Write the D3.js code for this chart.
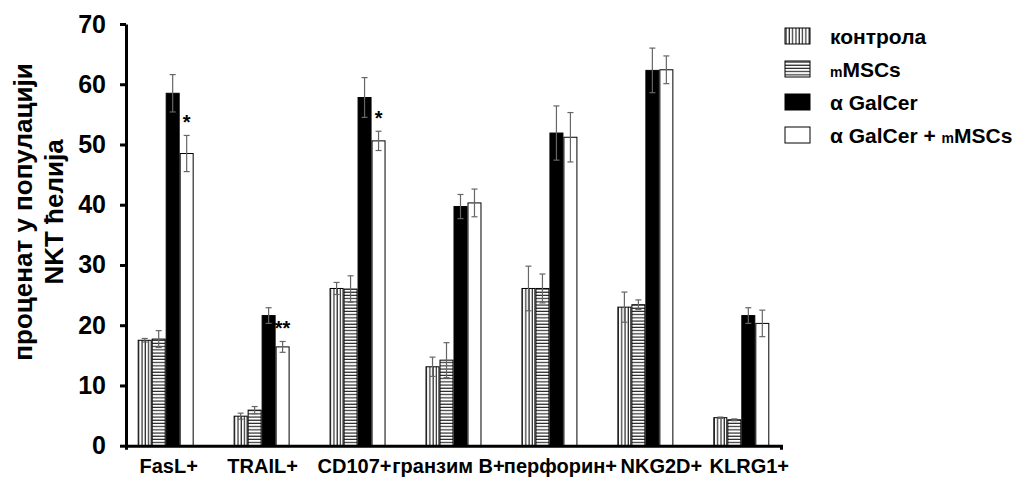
<!DOCTYPE html>
<html>
<head>
<meta charset="utf-8">
<script src="https://cdn.jsdelivr.net/npm/d3@7"></script>
<style>
  body { margin: 0; background: #fff; }
  svg { display: block; font-family: "Liberation Sans", Arial, sans-serif; }
  .axis path, .axis line { stroke: #000; }
  .axis text { fill: #000; font-weight: bold; }
</style>
</head>
<body>
<div id="chart"></div>
<script>
// categories and series
const categories = ['FasL+', 'TRAIL+', 'CD107+', 'гранзим B+', 'перфорин+', 'NKG2D+', 'KLRG1+'];
const series = ['kontrola', 'mMSCs', 'galcer', 'galcerMSC'];

// values (% of NKT cells), one array per series, same order as categories
const kontrola = [17.5, 4.9, 26.1, 13.1, 26.1, 23.0, 4.65];
const mMSCs = [17.7, 5.9, 26.0, 14.2, 26.1, 23.4, 4.3];
const galcer = [58.5, 21.6, 57.8, 39.7, 51.9, 62.3, 21.6];
const galcerMSC = [48.5, 16.4, 50.6, 40.3, 51.2, 62.4, 20.3];

// error bars
const kontrolaErr = [0.3, 0.5, 1.0, 1.6, 3.7, 2.5, 0.1];
const mMSCsErr = [1.4, 0.6, 2.2, 2.9, 2.4, 0.8, 0.15];
const galcerErr = [3.1, 1.3, 3.3, 2.0, 4.5, 3.7, 1.3];
const galcerMSCErr = [3.0, 0.9, 1.6, 2.3, 4.1, 2.3, 2.2];

const yTicks = [0, 10, 20, 30, 40, 50, 60, 70];

// significance marks above the αGalCer+mMSCs bar
const marks = [
  { cat: 'FasL+', text: '*' },
  { cat: 'TRAIL+', text: '**' },
  { cat: 'CD107+', text: '*' },
];

const values = { kontrola, mMSCs, galcer, galcerMSC };
const errors = { kontrola: kontrolaErr, mMSCs: mMSCsErr, galcer: galcerErr, galcerMSC: galcerMSCErr };

const width = 1019;
const height = 477;

// the long category labels are nudged sideways so they don't run into each other
const labelShift = {
  'FasL+': 3, 'TRAIL+': 1, 'CD107+': -3, 'гранзим B+': -5,
  'перфорин+': 11, 'NKG2D+': 16, 'KLRG1+': 8,
};

const svg = d3.select('#chart').append('svg')
  .attr('width', width)
  .attr('height', height);

const defs = svg.append('defs');
const vert = defs.append('pattern')
  .attr('id', 'vstripe')
  .attr('patternUnits', 'userSpaceOnUse')
  .attr('width', 3.3)
  .attr('height', 10);
vert.append('rect').attr('width', 3.3).attr('height', 10).attr('fill', '#fff');
vert.append('line').attr('x1', 1).attr('x2', 1).attr('y1', 0).attr('y2', 10)
  .attr('stroke', '#000').attr('stroke-width', 1);

const horiz = defs.append('pattern')
  .attr('id', 'hstripe')
  .attr('patternUnits', 'userSpaceOnUse')
  .attr('width', 10)
  .attr('height', 3.2);
horiz.append('rect').attr('width', 10).attr('height', 3.2).attr('fill', '#fff');
horiz.append('line').attr('x1', 0).attr('x2', 10).attr('y1', 1).attr('y2', 1)
  .attr('stroke', '#000').attr('stroke-width', 1);

const fills = {
  kontrola: 'url(#vstripe)',
  mMSCs: 'url(#hstripe)',
  galcer: '#000',
  galcerMSC: '#fff',
};

const y = d3.scaleLinear().domain([0, 70]).range([445.7, 24]);
const x = d3.scaleBand()
  .domain(categories)
  .range([126, 781])
  .paddingInner(0.4167)
  .paddingOuter(0.122);
const xSub = d3.scaleBand().domain(series).range([0, x.bandwidth()]);

// bars
const groups = svg.append('g').selectAll('g')
  .data(categories)
  .join('g')
  .attr('transform', d => `translate(${x(d)},0)`);

groups.selectAll('rect')
  .data((c, i) => series.map(s => ({ s, v: values[s][i], e: errors[s][i] })))
  .join('rect')
  .attr('x', d => xSub(d.s) + 0.5)
  .attr('y', d => y(d.v))
  .attr('width', xSub.bandwidth() - 1)
  .attr('height', d => y(0) - y(d.v))
  .attr('fill', d => fills[d.s])
  .attr('stroke', '#000')
  .attr('stroke-width', 1);

// error bars
const err = groups.selectAll('g.err')
  .data((c, i) => series.map(s => ({ s, v: values[s][i], e: errors[s][i] })))
  .join('g')
  .attr('class', 'err')
  .attr('stroke', '#666')
  .attr('stroke-width', 1.2);
const cx = d => xSub(d.s) + xSub.bandwidth() / 2;
err.append('line')
  .attr('x1', cx).attr('x2', cx)
  .attr('y1', d => y(d.v + d.e))
  .attr('y2', d => y(d.v - d.e));
err.append('line')
  .attr('x1', d => cx(d) - 3).attr('x2', d => cx(d) + 3)
  .attr('y1', d => y(d.v + d.e)).attr('y2', d => y(d.v + d.e));
err.append('line')
  .attr('x1', d => cx(d) - 3).attr('x2', d => cx(d) + 3)
  .attr('y1', d => y(d.v - d.e)).attr('y2', d => y(d.v - d.e));

// significance stars
svg.append('g').selectAll('text')
  .data(marks)
  .join('text')
  .attr('x', d => x(d.cat) + xSub('galcerMSC') + xSub.bandwidth() / 2)
  .attr('y', d => {
    const i = categories.indexOf(d.cat);
    return y(galcerMSC[i] + galcerMSCErr[i]) - 6;
  })
  .attr('text-anchor', 'middle')
  .attr('font-size', 20)
  .attr('font-weight', 'bold')
  .text(d => d.text);

// axes
const yAxis = svg.append('g')
  .attr('class', 'axis')
  .attr('transform', 'translate(126,0)')
  .call(d3.axisLeft(y).tickValues(yTicks).tickSize(6).tickSizeOuter(0).tickPadding(14));
yAxis.selectAll('path, line').attr('stroke-width', 3);
yAxis.selectAll('text').attr('font-size', 25);

const xAxis = svg.append('g')
  .attr('class', 'axis')
  .attr('transform', `translate(0,${y(0)})`)
  .call(d3.axisBottom(x).tickSize(0).tickSizeOuter(4).tickPadding(13));
xAxis.select('path').attr('stroke-width', 3);
xAxis.selectAll('text')
  .attr('font-size', 20)
  .attr('dx', d => labelShift[d] || 0);

// y title
const title = svg.append('text')
  .attr('transform', 'translate(0,212) rotate(-90)')
  .attr('text-anchor', 'middle')
  .attr('font-size', 26)
  .attr('font-weight', 'bold');
title.append('tspan').attr('x', 0).attr('y', 32).text('проценат у популацији');
title.append('tspan').attr('x', 0).attr('y', 63).text('NKT ћелија');

// legend
const legendItems = [
  { s: 'kontrola', parts: [['контрола', 21]] },
  { s: 'mMSCs', parts: [['m', 14], ['MSCs', 21]] },
  { s: 'galcer', parts: [['α GalCer', 21]] },
  { s: 'galcerMSC', parts: [['α GalCer + ', 21], ['m', 14], ['MSCs', 21]] },
];
const legend = svg.append('g').attr('transform', 'translate(785,28)');
const li = legend.selectAll('g')
  .data(legendItems)
  .join('g')
  .attr('transform', (d, i) => `translate(0,${i * 33})`);
li.append('rect')
  .attr('width', 25)
  .attr('height', 16)
  .attr('fill', d => fills[d.s])
  .attr('stroke', '#000')
  .attr('stroke-width', 1);
const lt = li.append('text')
  .attr('x', 45)
  .attr('y', 16)
  .attr('font-weight', 'bold');
lt.selectAll('tspan')
  .data(d => d.parts)
  .join('tspan')
  .attr('font-size', d => d[1])
  .text(d => d[0]);
</script>
</body>
</html>
